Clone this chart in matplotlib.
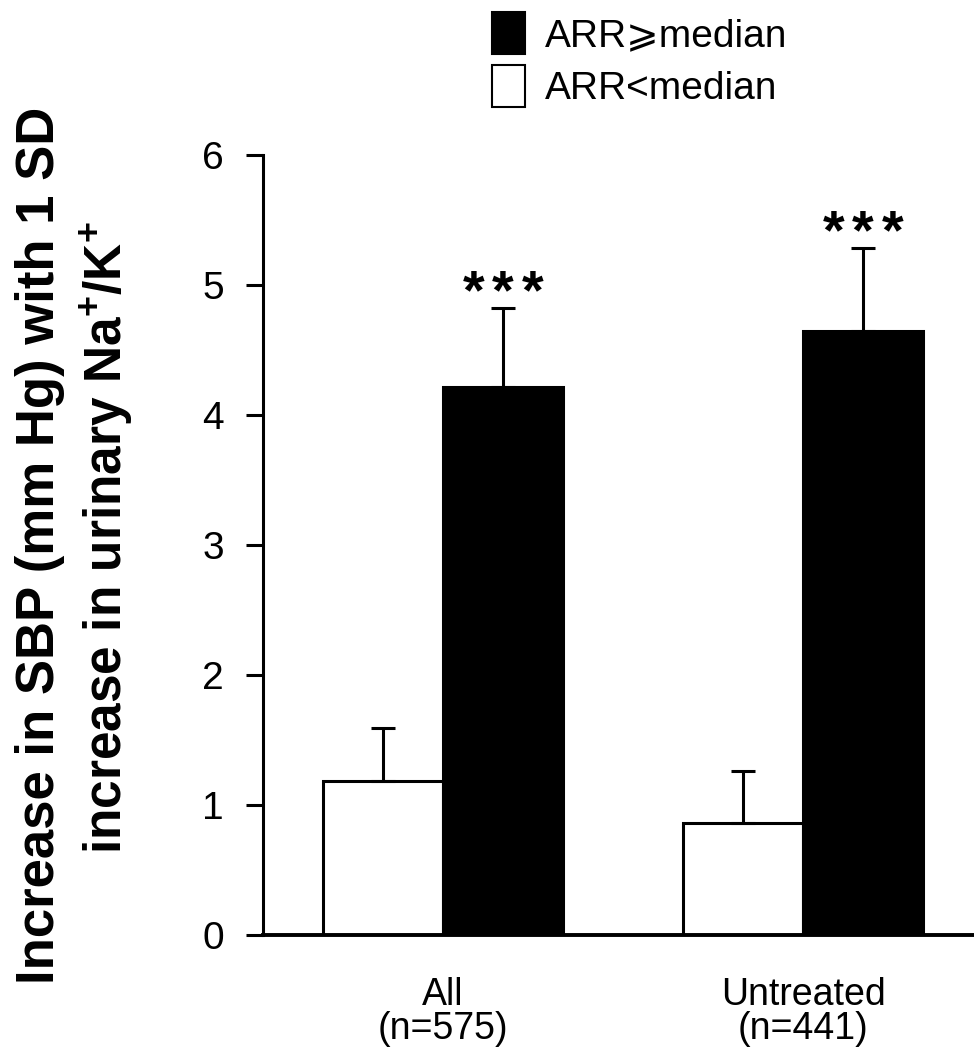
import numpy as np
import matplotlib
matplotlib.use("Agg")
import matplotlib.pyplot as plt
from matplotlib.patches import Patch

plt.rcParams["font.family"] = ["Liberation Sans", "DejaVu Sans"]
plt.rcParams["mathtext.fontset"] = "custom"
plt.rcParams["mathtext.rm"] = "Liberation Sans"
plt.rcParams["mathtext.bf"] = "Liberation Sans:bold"

# data
groups = ["All\n(n=575)", "Untreated\n(n=441)"]
series = ["ARR<median", "ARR\u2a7emedian"]
low_mean = [1.185, 0.86]
low_err = [0.405, 0.40]
high_mean = [4.215, 4.646]
high_err = [0.605, 0.64]
stars = ["***", "***"]
yticks = [0, 1, 2, 3, 4, 5, 6]

LW = 2.2
fig = plt.figure(figsize=(9.74, 10.5), dpi=100)
ax = fig.add_axes([263 / 974, 1 - 935 / 1050, 1 - 263 / 974, (935 - 155) / 1050])

x = np.arange(len(groups))
w = 1 / 3
err_kw = dict(elinewidth=LW, capthick=LW, capsize=8.6, ecolor="k")
ax.bar(x - w / 2, low_mean, w, color="white", edgecolor="k", linewidth=LW,
       yerr=[np.zeros(len(low_err)), low_err], error_kw=err_kw, zorder=2)
ax.bar(x + w / 2, high_mean, w, color="black", edgecolor="k", linewidth=LW,
       yerr=[np.zeros(len(high_err)), high_err], error_kw=err_kw, zorder=2)

# significance stars above black bars
for xi, m, e, s in zip(x + w / 2, high_mean, high_err, stars):
    for k in range(len(s)):
        ax.annotate(s[k], xy=(xi, m + e), xytext=((k - 1) * 21, 0),
                    textcoords="offset points", ha="center", va="baseline",
                    fontsize=40, fontweight="bold")

ax.set_xlim(-0.5, 1.475)
ax.set_ylim(0, 6)
ax.set_yticks(yticks)
ax.set_xticks(x)
ax.set_xticklabels(groups, fontsize=27, linespacing=0.95)
ax.tick_params(axis="x", length=0, pad=30)
ax.tick_params(axis="y", length=12, width=LW, pad=16, labelsize=28)
ax.spines[["top", "right"]].set_visible(False)
ax.spines["left"].set_linewidth(LW)
ax.spines["bottom"].set_linewidth(2.8)

# two-line y label
fig.text(54 / 974, 1 - 545 / 1050, "Increase in SBP (mm Hg) with 1 SD",
         rotation=90, rotation_mode="anchor", ha="center", va="baseline",
         fontsize=38, fontweight="bold")
fig.text(122 / 974, 1 - 537 / 1050,
         r"increase in urinary Na$^{\mathbf{+}}$/K$^{\mathbf{+}}$",
         rotation=90, rotation_mode="anchor", ha="center", va="baseline",
         fontsize=37, fontweight="bold")

handles = [Patch(facecolor="black", edgecolor="k", linewidth=1.5),
           Patch(facecolor="white", edgecolor="k", linewidth=1.5)]
fig.legend(handles, [series[1], series[0]], loc="upper left",
           bbox_to_anchor=(492 / 974, 1 - 12 / 1050), frameon=False,
           fontsize=28, handlelength=0.85, handleheight=1.29,
           handletextpad=0.5, labelspacing=0.28, borderpad=0, borderaxespad=0)

fig.savefig("out.png", dpi=100)
